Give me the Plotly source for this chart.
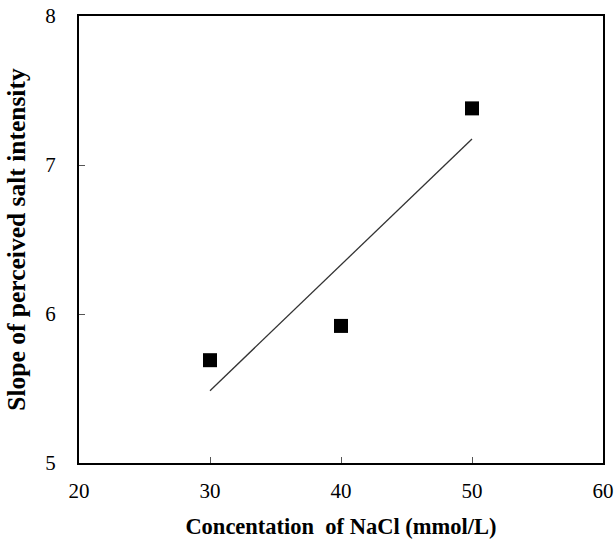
import numpy as np
import plotly.graph_objects as go

nacl = [30, 40, 50]
slope = [5.69, 5.92, 7.38]
x_ticks = [20, 30, 40, 50, 60]
y_ticks = [5, 6, 7, 8]

coef = np.polyfit(nacl, slope, 1)
fit_x = [min(nacl), max(nacl)]
fit_y = [float(np.polyval(coef, v)) for v in fit_x]

fig = go.Figure()
fig.add_trace(go.Scatter(x=fit_x, y=fit_y, mode="lines",
                         line=dict(color="#333333", width=1.3), showlegend=False))
fig.add_trace(go.Scatter(x=nacl, y=slope, mode="markers",
                         marker=dict(symbol="square", size=14, color="black"),
                         showlegend=False))

font_family = "Liberation Serif, Times New Roman, serif"
fig.update_layout(
    width=615, height=541,
    margin=dict(l=79, r=12, t=16, b=78),
    plot_bgcolor="white", paper_bgcolor="white",
    font=dict(family=font_family, color="black"),
)
fig.update_xaxes(
    range=[20, 60], tickvals=x_ticks, showgrid=False, zeroline=False,
    showline=True, linecolor="black", linewidth=2, mirror=True,
    ticks="inside", ticklen=6, tickcolor="#555555", tickwidth=1,
    tickfont=dict(size=21, family=font_family), ticklabelstandoff=8,
    automargin=False,
    title=dict(text="<b>Concentation  of NaCl (mmol/L)</b>",
               font=dict(size=22.5, family=font_family), standoff=16),
)
fig.update_yaxes(
    range=[5, 8], tickvals=y_ticks, showgrid=False, zeroline=False,
    showline=True, linecolor="black", linewidth=2, mirror=True,
    ticks="inside", ticklen=6, tickcolor="#555555", tickwidth=1,
    tickfont=dict(size=21, family=font_family), ticklabelstandoff=17,
    automargin=False,
    title=dict(text="<b>Slope of perceived salt intensity</b>",
               font=dict(size=25.5, family=font_family), standoff=12),
)

fig.write_html("out.html", config={"displayModeBar": False},
               post_script="document.body.style.margin='0';")
